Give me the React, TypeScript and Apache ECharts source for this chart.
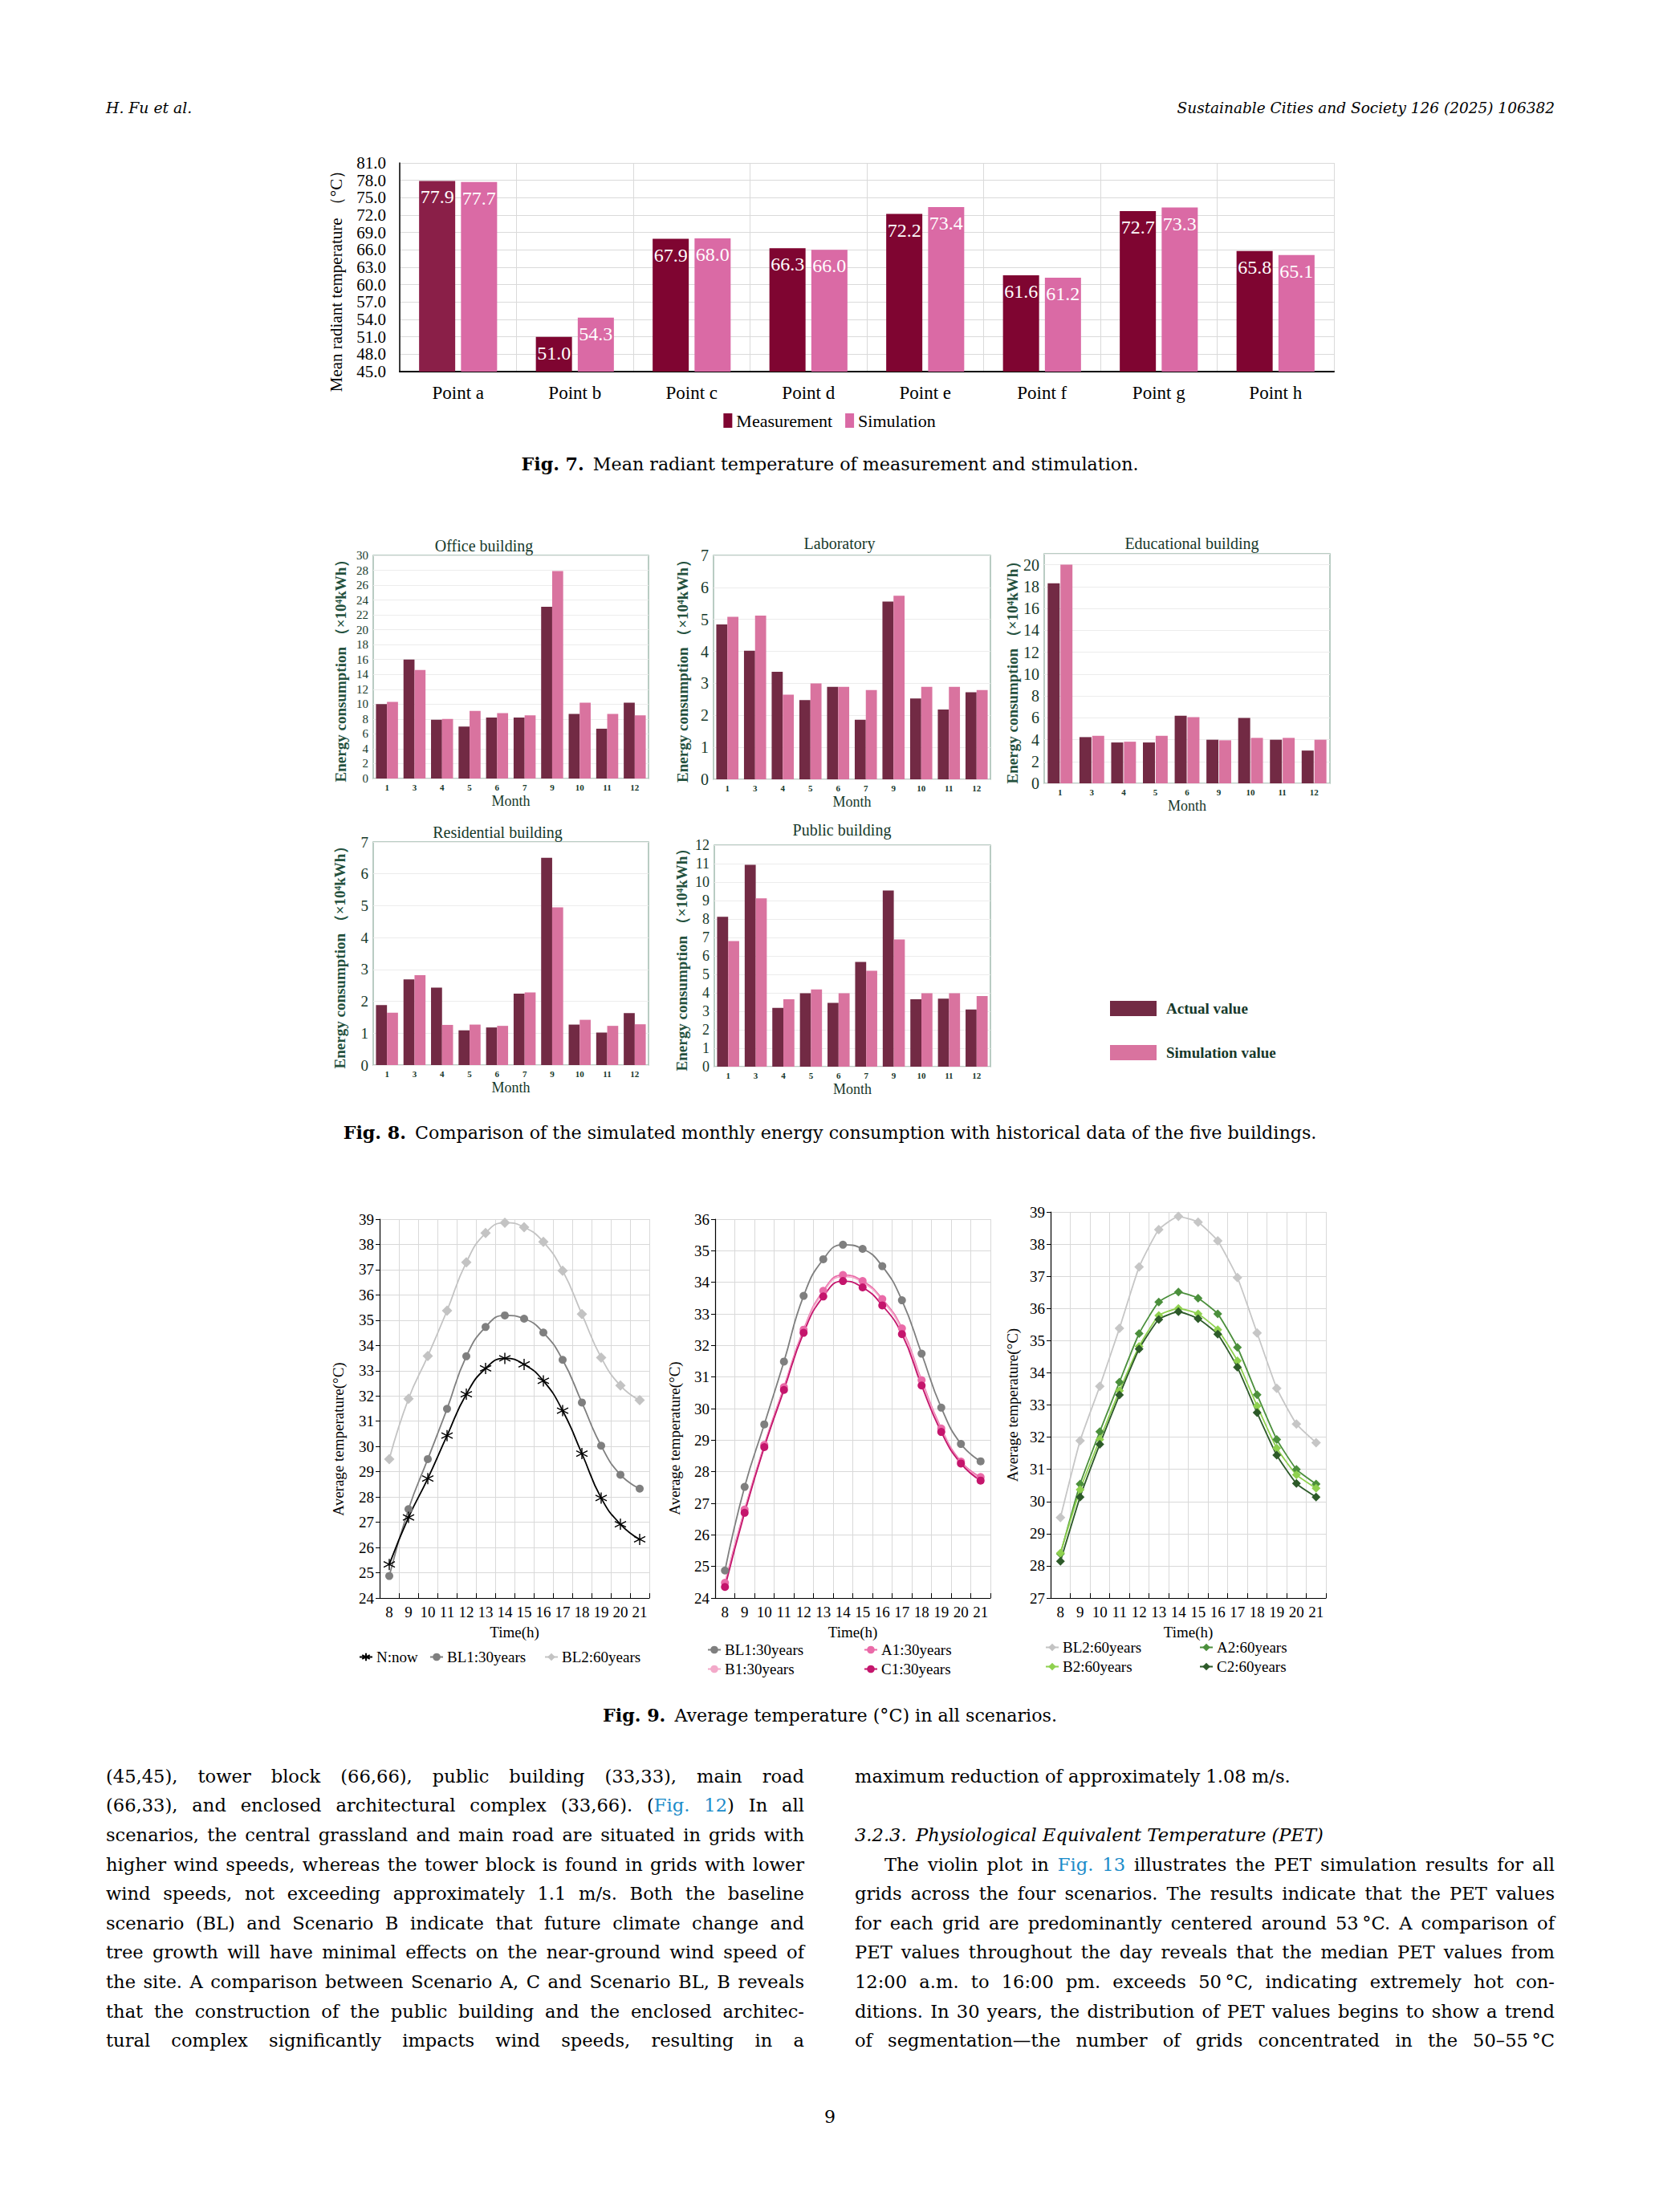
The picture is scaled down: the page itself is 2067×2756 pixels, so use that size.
import React, { useEffect, useRef } from "react";
import * as echarts from "echarts";

// ---------- Fig. 7 data ----------
const pointNames = ["Point a", "Point b", "Point c", "Point d", "Point e", "Point f", "Point g", "Point h"];
const mrtMeasurement = [77.9, 51.0, 67.9, 66.3, 72.2, 61.6, 72.7, 65.8];
const mrtSimulation = [77.7, 54.3, 68.0, 66.0, 73.4, 61.2, 73.3, 65.1];

// ---------- Fig. 8 data ----------
const monthsMain = ["1", "3", "4", "5", "6", "7", "9", "10", "11", "12"];
const monthsEdu = ["1", "3", "4", "5", "6", "9", "10", "11", "12"];
const officeActual = [10.0, 16.0, 7.9, 7.0, 8.2, 8.2, 23.1, 8.7, 6.7, 10.2];
const officeSim = [10.3, 14.6, 8.0, 9.1, 8.8, 8.5, 27.9, 10.2, 8.7, 8.5];
const labActual = [4.84, 4.02, 3.36, 2.48, 2.89, 1.86, 5.56, 2.53, 2.18, 2.72];
const labSim = [5.08, 5.12, 2.65, 3.0, 2.89, 2.79, 5.74, 2.89, 2.89, 2.79];
const eduActual = [18.3, 4.23, 3.74, 3.74, 6.19, 3.99, 5.99, 3.99, 3.0];
const eduSim = [20.0, 4.35, 3.81, 4.35, 6.06, 3.94, 4.16, 4.16, 3.99];
const resActual = [1.88, 2.69, 2.43, 1.09, 1.18, 2.24, 6.5, 1.27, 1.02, 1.63];
const resSim = [1.64, 2.82, 1.26, 1.27, 1.23, 2.28, 4.95, 1.42, 1.23, 1.28];
const pubActual = [8.12, 10.93, 3.18, 3.98, 3.46, 5.67, 9.54, 3.65, 3.68, 3.1];
const pubSim = [6.8, 9.12, 3.65, 4.18, 3.98, 5.2, 6.89, 3.98, 3.98, 3.83];

// ---------- Fig. 9 data ----------
const hours = ["8", "9", "10", "11", "12", "13", "14", "15", "16", "17", "18", "19", "20", "21"];
const tempNow = [25.33, 27.19, 28.73, 30.43, 32.07, 33.09, 33.49, 33.25, 32.6, 31.42, 29.72, 27.96, 26.92, 26.32];
const tempBL1 = [24.87, 27.52, 29.5, 31.49, 33.57, 34.73, 35.19, 35.06, 34.51, 33.43, 31.74, 30.03, 28.88, 28.33];
const tempBL2 = [29.5, 31.89, 33.58, 35.38, 37.29, 38.45, 38.86, 38.68, 38.1, 36.96, 35.24, 33.52, 32.41, 31.83];
const tempA1 = [24.48, 26.8, 28.85, 30.68, 32.5, 33.73, 34.23, 34.04, 33.47, 32.54, 30.9, 29.37, 28.32, 27.83];
const tempB1 = [24.45, 26.77, 28.82, 30.64, 32.46, 33.69, 34.18, 34.0, 33.43, 32.49, 30.85, 29.32, 28.28, 27.79];
const tempC1 = [24.35, 26.7, 28.78, 30.59, 32.4, 33.55, 34.04, 33.84, 33.27, 32.36, 30.73, 29.26, 28.26, 27.72];
const tempA2 = [28.37, 30.54, 32.17, 33.71, 35.22, 36.2, 36.51, 36.32, 35.83, 34.79, 33.32, 31.93, 31.0, 30.54];
const tempB2 = [28.4, 30.37, 31.93, 33.44, 34.82, 35.78, 36.0, 35.83, 35.34, 34.37, 32.97, 31.66, 30.83, 30.41];
const tempC2 = [28.14, 30.14, 31.78, 33.31, 34.74, 35.66, 35.9, 35.68, 35.2, 34.17, 32.76, 31.44, 30.56, 30.14];

const FONT = "'Liberation Serif', 'Times New Roman', serif";
const PAGE_FONT = "'DejaVu Serif', serif";
const GREEN = "#17392b";
const ASTERISK = "path://M5,0L5,10M0.67,2.5L9.33,7.5M0.67,7.5L9.33,2.5";

function buildOption(): any {
  const grids: any[] = [
    { left: 498, top: 203, width: 1164, height: 260 },
    { left: 465, top: 692, width: 343, height: 278, show: true, borderColor: "#a3bcb0", borderWidth: 1.5 },
    { left: 889, top: 692, width: 345, height: 279, show: true, borderColor: "#a3bcb0", borderWidth: 1.5 },
    { left: 1301, top: 690, width: 356, height: 286, show: true, borderColor: "#a3bcb0", borderWidth: 1.5 },
    { left: 465, top: 1049, width: 343, height: 278, show: true, borderColor: "#a3bcb0", borderWidth: 1.5 },
    { left: 890, top: 1053, width: 344, height: 276, show: true, borderColor: "#a3bcb0", borderWidth: 1.5 },
    { left: 473, top: 1519, width: 336, height: 472 },
    { left: 891, top: 1519, width: 343, height: 472 },
    { left: 1309, top: 1510, width: 343, height: 481 },
  ];

  const xAxes: any[] = [];
  const yAxes: any[] = [];

  // Fig 7 axes
  xAxes.push({
    gridIndex: 0, type: "category", data: pointNames,
    axisLine: { lineStyle: { color: "#000", width: 2 } },
    axisTick: { show: false },
    axisLabel: { fontSize: 23, color: "#000", margin: 15, fontFamily: FONT },
    splitLine: { show: true, lineStyle: { color: "#dadada" } },
  });
  yAxes.push({
    gridIndex: 0, type: "value", min: 45, max: 81, interval: 3,
    axisLine: { show: true, lineStyle: { color: "#000", width: 1.5 } },
    axisTick: { show: false },
    axisLabel: {
      fontSize: 21, color: "#000", margin: 17, fontFamily: FONT, showMinLabel: true, showMaxLabel: true, hideOverlap: false,
      formatter: (v: number) => v.toFixed(1),
    },
    splitLine: { lineStyle: { color: "#dadada" } },
    name: "Mean radiant temperature （°C）", nameLocation: "middle", nameRotate: 90, nameGap: 69,
    nameTextStyle: { fontSize: 21, color: "#000", fontFamily: FONT, padding: [0, 24, 0, 0] },
  });

  // Fig 8 axes
  const fig8Cfg = [
    { cats: monthsMain, max: 30, interval: 2, fs: 15, gap: 31 },
    { cats: monthsMain, max: 7, interval: 1, fs: 20, gap: 29 },
    { cats: monthsEdu, max: 21, interval: 2, fs: 20, gap: 29 },
    { cats: monthsMain, max: 7, interval: 1, fs: 19, gap: 32 },
    { cats: monthsMain, max: 12, interval: 1, fs: 18, gap: 31 },
  ];
  fig8Cfg.forEach((c, i) => {
    xAxes.push({
      gridIndex: i + 1, type: "category", data: c.cats,
      axisLine: { show: false }, axisTick: { show: false },
      axisLabel: { fontSize: 11, fontWeight: "bold", color: GREEN, margin: 5, interval: 0, fontFamily: FONT },
      name: "Month", nameLocation: "middle", nameGap: 19,
      nameTextStyle: { fontSize: 18, color: GREEN, fontFamily: FONT },
    });
    yAxes.push({
      gridIndex: i + 1, type: "value", min: 0, max: c.max, interval: c.interval,
      axisLine: { show: false }, axisTick: { show: false },
      axisLabel: { fontSize: c.fs, color: GREEN, margin: 6, fontFamily: FONT, showMinLabel: true, showMaxLabel: i !== 2 },
      splitLine: { lineStyle: { color: "#ececec" } },
      name: "Energy consumption （×10⁴kWh）", nameLocation: "middle", nameGap: c.gap,
      nameTextStyle: { fontSize: 19, fontWeight: "bold", color: "#23503d", fontFamily: FONT },
    });
  });

  // Fig 9 axes
  const fig9Cfg = [
    { min: 24, max: 39, gap: 42, pad: [0, 76, 0, 0] },
    { min: 24, max: 36, gap: 41, pad: [0, 74, 0, 0] },
    { min: 27, max: 39, gap: 38, pad: [0, 0, 0, 0] },
  ];
  fig9Cfg.forEach((c, i) => {
    xAxes.push({
      gridIndex: i + 6, type: "category", data: hours, boundaryGap: true,
      axisLine: { lineStyle: { color: "#000", width: 1.2 } },
      axisTick: { show: true, inside: true, length: 6, lineStyle: { color: "#000" } },
      axisLabel: { fontSize: 19, color: "#000", margin: 8, interval: 0, fontFamily: FONT },
      splitLine: { show: true, interval: 0, lineStyle: { color: "#d9d9d9" } },
      name: "Time(h)", nameLocation: "middle", nameGap: 33,
      nameTextStyle: { fontSize: 19, color: "#000", fontFamily: FONT },
    });
    yAxes.push({
      gridIndex: i + 6, type: "value", min: c.min, max: c.max, interval: 1,
      axisLine: { show: true, lineStyle: { color: "#000", width: 1.2 } },
      axisTick: { show: true, length: 5, lineStyle: { color: "#000" } },
      axisLabel: { fontSize: 19, color: "#000", margin: 7, fontFamily: FONT, showMinLabel: true, showMaxLabel: true },
      splitLine: { lineStyle: { color: "#d9d9d9" } },
      name: "Average temperature(°C)", nameLocation: "middle", nameGap: c.gap,
      nameTextStyle: { fontSize: 19, color: "#000", fontFamily: FONT, padding: c.pad },
    });
  });

  const series: any[] = [];
  const barLabel = {
    show: true, position: "insideTop", distance: 8, color: "#fff", fontSize: 24, fontFamily: FONT,
    formatter: (p: any) => Number(p.value).toFixed(1),
  };
  // Fig 7 series
  series.push({
    type: "bar", name: "Measurement", xAxisIndex: 0, yAxisIndex: 0,
    data: mrtMeasurement.map((v, i) => (i === 0 ? { value: v, itemStyle: { color: "#8a1f48" } } : v)),
    barWidth: 45, barGap: "16%", itemStyle: { color: "#7f0531" }, label: barLabel,
  });
  series.push({
    type: "bar", name: "Simulation", xAxisIndex: 0, yAxisIndex: 0,
    data: mrtSimulation, barWidth: 45, barGap: "16%", itemStyle: { color: "#da6aa5" }, label: barLabel,
  });

  // Fig 8 series
  const fig8Data = [
    [officeActual, officeSim],
    [labActual, labSim],
    [eduActual, eduSim],
    [resActual, resSim],
    [pubActual, pubSim],
  ];
  fig8Data.forEach((d, i) => {
    const edu = i === 2;
    series.push({
      type: "bar", name: "Actual value", xAxisIndex: i + 1, yAxisIndex: i + 1, data: d[0],
      itemStyle: { color: "#722a44" }, barGap: edu ? "6%" : "0%", barCategoryGap: edu ? "22%" : "20%",
    });
    series.push({
      type: "bar", name: "Simulation value", xAxisIndex: i + 1, yAxisIndex: i + 1, data: d[1],
      itemStyle: { color: "#d9739f" }, barGap: edu ? "6%" : "0%", barCategoryGap: edu ? "22%" : "20%",
    });
  });

  // Fig 9 series
  const line = (name: string, axis: number, data: number[], color: string, symbol: string, size: number, smooth: number, extra: any = {}) => ({
    type: "line", name, xAxisIndex: axis, yAxisIndex: axis, data, smooth,
    symbol, symbolSize: size, showSymbol: symbol !== "none",
    lineStyle: { color, width: 1.8 }, itemStyle: { color },
    ...extra,
  });
  series.push(line("BL2:60years", 6, tempBL2, "#c3c3c3", "diamond", 13, 0.5));
  series.push(line("BL1:30years", 6, tempBL1, "#7f7f7f", "circle", 10, 0.5));
  series.push(line("N:now", 6, tempNow, "#000", ASTERISK, 14, 0.5, {
    itemStyle: { color: "#000", borderColor: "#000", borderWidth: 1.4 },
  }));

  series.push(line("BL1:30years", 7, tempBL1, "#7f7f7f", "circle", 10, 0.5));
  series.push(line("A1:30years", 7, tempA1, "#ea6aa8", "circle", 10, 0.5));
  series.push(line("B1:30years", 7, tempB1, "#f3a9c9", "none", 6, 0.5));
  series.push(line("C1:30years", 7, tempC1, "#c4156c", "circle", 10, 0.5));

  series.push(line("BL2:60years", 8, tempBL2, "#c6c6c6", "diamond", 12, 0.15));
  series.push(line("A2:60years", 8, tempA2, "#4b8f3c", "diamond", 11, 0.15));
  series.push(line("B2:60years", 8, tempB2, "#8fd14f", "diamond", 11, 0.15));
  series.push(line("C2:60years", 8, tempC2, "#2d5a29", "diamond", 11, 0.15));

  const lg = (name: string, left: number, top: number) => ({
    data: [name], left, top, padding: 0, itemGap: 0, itemWidth: 16, itemHeight: 12,
    textStyle: { fontSize: 19, color: "#000", fontFamily: FONT, padding: [0, 0, 0, 0] },
    selectedMode: false,
  });

  const legends: any[] = [
    {
      data: ["Measurement", "Simulation"], left: "center", top: 513, icon: "rect",
      itemWidth: 11, itemHeight: 18, itemGap: 16, padding: 0, selectedMode: false,
      textStyle: { fontSize: 22, color: "#000", fontFamily: FONT },
    },
    {
      data: ["Actual value", "Simulation value"], orient: "vertical", left: 1383, top: 1247, icon: "rect",
      itemWidth: 58, itemHeight: 19, itemGap: 36, padding: 0, selectedMode: false,
      textStyle: { fontSize: 19, fontWeight: "bold", color: GREEN, fontFamily: FONT, padding: [0, 0, 0, 7] },
    },
    lg("N:now", 447, 2055),
    lg("BL1:30years", 535, 2055),
    lg("BL2:60years", 678, 2055),
    lg("BL1:30years", 881, 2046),
    lg("A1:30years", 1076, 2046),
    lg("B1:30years", 881, 2070),
    lg("C1:30years", 1076, 2070),
    lg("BL2:60years", 1302, 2043),
    lg("A2:60years", 1494, 2043),
    lg("B2:60years", 1302, 2067),
    lg("C2:60years", 1494, 2067),
  ];

  const titleText = (text: string, x: number, y: number) => ({
    type: "text", x, y, silent: true,
    style: { text, fontSize: 20, fontFamily: FONT, fill: GREEN, align: "center", verticalAlign: "middle" },
  });

  return {
    animation: false,
    textStyle: { fontFamily: FONT },
    grid: grids,
    xAxis: xAxes,
    yAxis: yAxes,
    legend: legends,
    series,
    graphic: [
      titleText("Office building", 603, 680),
      titleText("Laboratory", 1046, 677),
      titleText("Educational building", 1485, 677),
      titleText("Residential building", 620, 1037),
      titleText("Public building", 1049, 1034),
    ],
  };
}

const LH = 36.6;
const BODY_FS = 22.6;
const LINK = "#1a8bc9";

function TextLine(props: { x: number; i: number; w: number; last?: boolean; italic?: boolean; children: any }) {
  const top = 2213 - LH / 2 + props.i * LH;
  return (
    <div
      style={{
        position: "absolute", left: props.x, top, width: props.w, height: LH, lineHeight: LH + "px",
        fontSize: BODY_FS, textAlign: props.last ? "left" : "justify", textAlignLast: props.last ? "left" : "justify",
        fontStyle: props.italic ? "italic" : "normal", whiteSpace: "normal",
      } as any}
    >
      {props.children}
    </div>
  );
}

export default function App() {
  const ref = useRef<HTMLDivElement>(null);
  useEffect(() => {
    const chart = echarts.init(ref.current!, undefined, { renderer: "svg" });
    chart.setOption(buildOption());
    return () => chart.dispose();
  }, []);

  const L = 132, LW = 870, R = 1065, RW = 872;
  const caption = (top: number, label: string, text: string) => (
    <div style={{ position: "absolute", left: 0, top: top - 16, width: 2068, textAlign: "center", fontSize: 22.2, lineHeight: "32px" }}>
      <b>{label}</b>{"\u2002"}{text}
    </div>
  );

  return (
    <div style={{ position: "absolute", left: 0, top: 0, width: 2067, height: 2756, background: "#fff", fontFamily: PAGE_FONT, color: "#000", overflow: "hidden" }}>
      <div ref={ref} style={{ position: "absolute", left: 0, top: 0, width: 2067, height: 2756 }} />
      <div style={{ position: "absolute", left: 132, top: 121, fontSize: 18.8, fontStyle: "italic", lineHeight: "28px" }}>H. Fu et al.</div>
      <div style={{ position: "absolute", left: 0, width: 1937, top: 121, fontSize: 18.5, fontStyle: "italic", lineHeight: "28px", textAlign: "right" }}>
        Sustainable Cities and Society 126 (2025) 106382
      </div>
      {caption(578, "Fig. 7.", "Mean radiant temperature of measurement and stimulation.")}
      {caption(1411, "Fig. 8.", "Comparison of the simulated monthly energy consumption with historical data of the five buildings.")}
      {caption(2137, "Fig. 9.", "Average temperature (°C) in all scenarios.")}

      <TextLine x={L} w={LW} i={0}>(45,45), tower block (66,66), public building (33,33), main road</TextLine>
      <TextLine x={L} w={LW} i={1}>(66,33), and enclosed architectural complex (33,66). (<span style={{ color: LINK }}>Fig.&nbsp;12</span>) In all</TextLine>
      <TextLine x={L} w={LW} i={2}>scenarios, the central grassland and main road are situated in grids with</TextLine>
      <TextLine x={L} w={LW} i={3}>higher wind speeds, whereas the tower block is found in grids with lower</TextLine>
      <TextLine x={L} w={LW} i={4}>wind speeds, not exceeding approximately 1.1 m/s. Both the baseline</TextLine>
      <TextLine x={L} w={LW} i={5}>scenario (BL) and Scenario B indicate that future climate change and</TextLine>
      <TextLine x={L} w={LW} i={6}>tree growth will have minimal effects on the near-ground wind speed of</TextLine>
      <TextLine x={L} w={LW} i={7}>the site. A comparison between Scenario A, C and Scenario BL, B reveals</TextLine>
      <TextLine x={L} w={LW} i={8}>that the construction of the public building and the enclosed architec-</TextLine>
      <TextLine x={L} w={LW} i={9}>tural complex significantly impacts wind speeds, resulting in a</TextLine>

      <TextLine x={R} w={RW} i={0} last>maximum reduction of approximately 1.08 m/s.</TextLine>
      <TextLine x={R} w={RW} i={2} last italic>3.2.3.{"\u2002"}Physiological Equivalent Temperature (PET)</TextLine>
      <TextLine x={R + 37} w={RW - 37} i={3}>The violin plot in <span style={{ color: LINK }}>Fig.&nbsp;13</span> illustrates the PET simulation results for all</TextLine>
      <TextLine x={R} w={RW} i={4}>grids across the four scenarios. The results indicate that the PET values</TextLine>
      <TextLine x={R} w={RW} i={5}>for each grid are predominantly centered around 53{"\u202F"}°C. A comparison of</TextLine>
      <TextLine x={R} w={RW} i={6}>PET values throughout the day reveals that the median PET values from</TextLine>
      <TextLine x={R} w={RW} i={7}>12:00 a.m. to 16:00 pm. exceeds 50{"\u202F"}°C, indicating extremely hot con-</TextLine>
      <TextLine x={R} w={RW} i={8}>ditions. In 30 years, the distribution of PET values begins to show a trend</TextLine>
      <TextLine x={R} w={RW} i={9}>of segmentation—the number of grids concentrated in the 50–55{"\u202F"}°C</TextLine>

      <div style={{ position: "absolute", left: 0, width: 2068, top: 2624, fontSize: 22, lineHeight: "28px", textAlign: "center" }}>9</div>
    </div>
  );
}
